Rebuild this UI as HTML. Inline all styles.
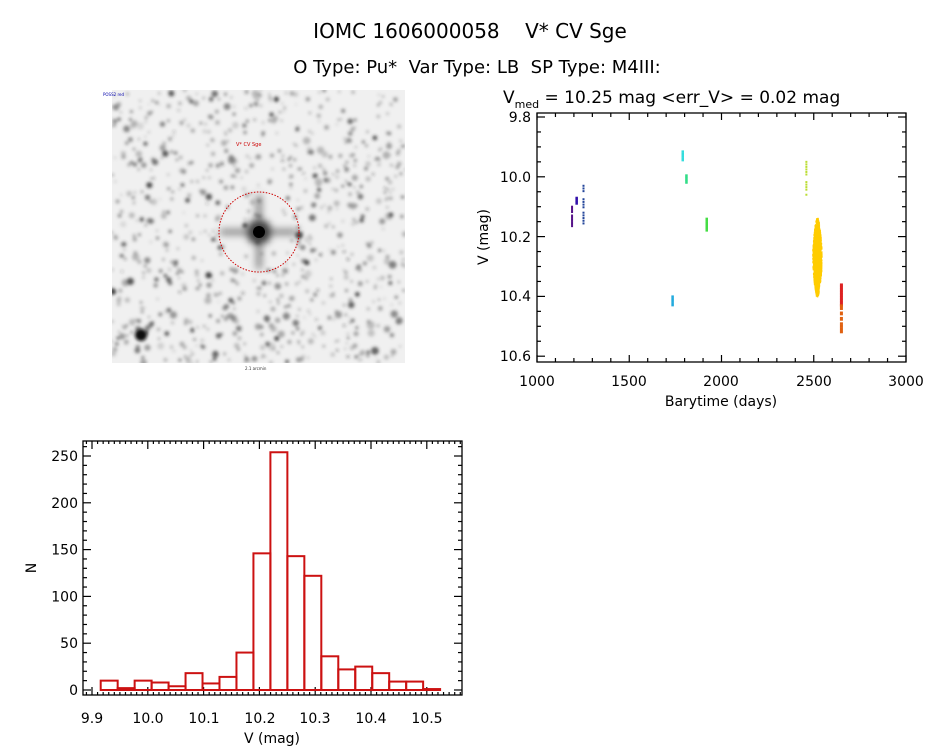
<!DOCTYPE html>
<html><head><meta charset="utf-8"><style>
html,body{margin:0;padding:0;background:#fff;}
svg{display:block;font-family:"DejaVu Sans","Liberation Sans",sans-serif;}
text{white-space:pre;}
</style></head><body>
<svg id="s" width="944" height="747" viewBox="0 0 944 747" xmlns="http://www.w3.org/2000/svg">
<defs>
<filter id="bl" x="-50%" y="-50%" width="200%" height="200%"><feGaussianBlur stdDeviation="1.6"/></filter>
<filter id="bl2" x="-50%" y="-50%" width="200%" height="200%"><feGaussianBlur stdDeviation="4"/></filter>
<clipPath id="ic"><rect x="112" y="90" width="293" height="273"/></clipPath>
</defs>
<rect width="944" height="747" fill="#fff"/>
<text x="470" y="38" font-size="20" text-anchor="middle" xml:space="preserve">IOMC 1606000058    V* CV Sge</text>
<text x="477" y="73" font-size="18" text-anchor="middle" xml:space="preserve">O Type: Pu*  Var Type: LB  SP Type: M4III:</text>
<text x="503" y="103" font-size="17">V<tspan font-size="11" dy="5">med</tspan><tspan dy="-5"> = 10.25 mag &lt;err_V&gt; = 0.02 mag</tspan></text>

<g clip-path="url(#ic)">
<rect x="112" y="90" width="293" height="273" fill="#f0f0f0"/>
<g id="stars" filter="url(#bl)"></g>
<g filter="url(#bl2)"><circle cx="259" cy="232" r="12" fill="#000"/><rect x="220" y="230" width="78" height="4" fill="#555"/><rect x="257" y="195" width="4" height="74" fill="#555"/></g>
<circle cx="259" cy="232" r="6" fill="#000"/>
<circle cx="141" cy="335" r="6" fill="#111" filter="url(#bl)"/>
<circle cx="259" cy="232" r="40" fill="none" stroke="#cc0000" stroke-width="1" stroke-dasharray="1.5,1.5"/>
<text x="236" y="146" font-size="5" fill="#cc0000">V* CV Sge</text>
</g>
<text x="103" y="96" font-size="4" fill="#00a">POSS2 red</text>
<text x="245" y="370" font-size="4" fill="#333">2.1 arcmin</text>

<rect x="537" y="113" width="369" height="249" fill="none" stroke="#000" stroke-width="1.3"/>
<g id="lct" stroke="#000" stroke-width="1.2"></g>
<g font-size="14" text-anchor="end">
<text x="531" y="122">9.8</text><text x="531" y="182">10.0</text><text x="531" y="242">10.2</text><text x="531" y="301">10.4</text><text x="531" y="361">10.6</text>
</g>
<g font-size="14" text-anchor="middle">
<text x="537" y="386">1000</text><text x="629" y="386">1500</text><text x="721" y="386">2000</text><text x="814" y="386">2500</text><text x="906" y="386">3000</text>
</g>
<text x="721" y="406" font-size="14" text-anchor="middle">Barytime (days)</text>
<text transform="translate(488,237) rotate(-90)" font-size="14" text-anchor="middle">V (mag)</text>
<g id="pts"></g>

<rect x="83" y="441" width="379" height="254" fill="none" stroke="#000" stroke-width="1.3"/>
<g id="ht" stroke="#000" stroke-width="1.2"></g>
<g id="bars" fill="none" stroke="#cc1111" stroke-width="2"></g>
<g font-size="14" text-anchor="end">
<text x="78" y="462">250</text><text x="78" y="415">200</text><text x="78" y="368">150</text><text x="78" y="321">100</text><text x="78" y="274">50</text><text x="78" y="695">0</text>
</g>
<g font-size="14" text-anchor="middle">
<text x="92" y="723">9.9</text><text x="148" y="723">10.0</text><text x="204" y="723">10.1</text><text x="260" y="723">10.2</text><text x="315" y="723">10.3</text><text x="371" y="723">10.4</text><text x="427" y="723">10.5</text>
</g>
<text x="272" y="743" font-size="14" text-anchor="middle">V (mag)</text>
<text transform="translate(36,568) rotate(-90)" font-size="14" text-anchor="middle">N</text>
</svg>
<script>
(function(){
var NS="http://www.w3.org/2000/svg";
function el(p,t,a){var e=document.createElementNS(NS,t);for(var k in a)e.setAttribute(k,a[k]);p.appendChild(e);return e;}
var s=document.getElementById('s');
var lbl=s.querySelectorAll('g[font-size="14"][text-anchor="end"]')[1].children;
var HY=function(n){return 690-n*0.936;};
[250,200,150,100,50].forEach(function(v,i){lbl[i].setAttribute('y',HY(v)+5);});
var seed=7;function r(){seed=(seed*16807)%2147483647;return (seed-1)/2147483646;}
var st=document.getElementById('stars');
for(var i=0;i<900;i++){var x=112+r()*293,y=90+r()*273;var dx=x-259,dy=y-232;if(dx*dx+dy*dy<1300&&r()<0.7)continue;
var rad=1+r()*r()*3.2;var g=(40+r()*150)|0;el(st,'circle',{cx:x,cy:y,r:rad,fill:'rgb('+g+','+g+','+g+')',opacity:0.4+r()*0.5});}
var lct=document.getElementById('lct');
var X=function(d){return 537+(d-1000)*0.1845;},Y=function(m){return 117+(m-9.8)*299;};
for(var d=1000;d<=3000;d+=100){var L=(d%500==0)?7:4;el(lct,'line',{x1:X(d),x2:X(d),y1:362,y2:362-L});el(lct,'line',{x1:X(d),x2:X(d),y1:113,y2:113+L});}
for(var m=9.8;m<=10.6001;m+=0.05){var k=Math.round(m*100)%20==0;var L=k?8:4;el(lct,'line',{x1:537,x2:537+L,y1:Y(m),y2:Y(m)});el(lct,'line',{x1:906,x2:906-L,y1:Y(m),y2:Y(m)});}
var pts=document.getElementById('pts');
function seg(d,m0,m1,col,n,w,dash){for(var i=0;i<n;i++){var m=m0+(m1-m0)*i/(n-1);if(dash&&r()<0.3)continue;el(pts,'rect',{x:X(d)-w/2,y:Y(m)-1,width:w,height:2,fill:col});}}
seg(1190,10.10,10.165,'#551188',12,2,true);
seg(1215,10.07,10.09,'#3311aa',5,2.5,false);
seg(1252,10.03,10.165,'#224499',16,2,true);
seg(1735,10.40,10.43,'#22aadd',6,2.5,false);
seg(1790,9.915,9.945,'#33dddd',6,2.5,false);
seg(1810,9.995,10.02,'#33dd88',6,2.5,false);
seg(1920,10.14,10.18,'#44dd44',8,2.5,false);
seg(2460,9.95,10.06,'#bbdd33',14,2,true);
for(var i=0;i<320;i++){var m=10.14+r()*0.26;var c=(m-10.27)/0.13;var w=7*(1-c*c)+1.5;el(pts,'rect',{x:X(2520)-w/2+(r()-0.5)*2,y:Y(m)-1,width:w,height:2,fill:'#ffcc00'});}
seg(2650,10.36,10.43,'#dd2222',14,3,false);
seg(2650,10.43,10.52,'#e06010',16,3,true);
var ht=document.getElementById('ht');
var HX=function(v){return 92+(v-9.9)*558;};
for(var v=9.89;v<=10.561;v+=0.01){var k=Math.abs(v*10-Math.round(v*10))<0.01;var L=k?8:3;el(ht,'line',{x1:HX(v),x2:HX(v),y1:695,y2:695-L});el(ht,'line',{x1:HX(v),x2:HX(v),y1:441,y2:441+L});}
for(var n=0;n<=260;n+=10){var L=(n%50==0)?8:4;el(ht,'line',{x1:83,x2:83+L,y1:HY(n),y2:HY(n)});el(ht,'line',{x1:462,x2:462-L,y1:HY(n),y2:HY(n)});}
var H=[10,2,10,8,4,18,7,14,40,146,254,143,122,36,22,25,18,9,9,1];
var b=document.getElementById('bars');
H.forEach(function(h,i){var x=100.7+i*16.97;el(b,'rect',{x:x,y:HY(h),width:16.97,height:h*0.936});});
})();
</script>
</body></html>
